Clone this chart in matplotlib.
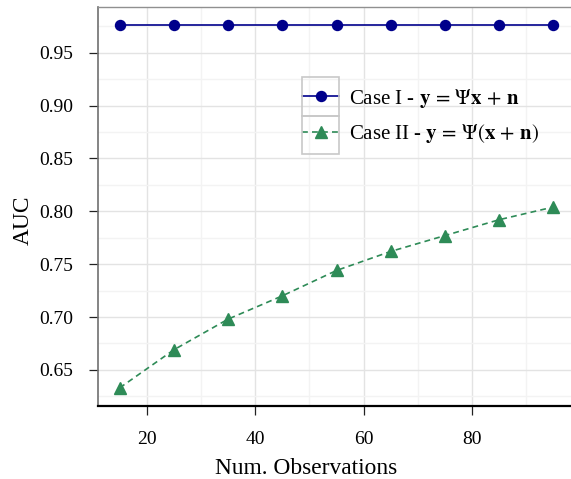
import matplotlib
matplotlib.use("Agg")
import matplotlib.pyplot as plt
from matplotlib.ticker import MultipleLocator, FormatStrFormatter
from matplotlib.patches import Rectangle

plt.rcParams['font.family'] = ['Liberation Serif', 'DejaVu Serif']
plt.rcParams['mathtext.fontset'] = 'stix'

obs = [15, 25, 35, 45, 55, 65, 75, 85, 95]
case1 = [0.976, 0.976, 0.976, 0.976, 0.976, 0.976, 0.976, 0.976, 0.976]
case2 = [0.633, 0.669, 0.698, 0.720, 0.744, 0.762, 0.777, 0.792, 0.804]
label1 = r'Case I - $\mathbf{y}\,=\,\Psi\mathbf{x}\,+\,\mathbf{n}$'
label2 = r'Case II - $\mathbf{y}\,=\,\Psi(\mathbf{x}\,+\,\mathbf{n})$'

blue = '#00008B'
green = '#2E8B57'

W, H = 571, 479
fig = plt.figure(figsize=(W / 100, H / 100), dpi=100)
ax = fig.add_axes([98 / W, 73 / H, 477 / W, 399 / H])

ax.plot(obs, case1, color=blue, lw=1.2, marker='o', ms=7.2, label=label1)
ax.plot(obs, case2, color=green, lw=1.2, ls=(0, (3.5, 2.5)), marker='^', ms=9, label=label2)

ax.xaxis.set_major_locator(MultipleLocator(20))
ax.xaxis.set_minor_locator(MultipleLocator(10))
ax.yaxis.set_major_locator(MultipleLocator(0.05))
ax.yaxis.set_minor_locator(MultipleLocator(0.025))
ax.yaxis.set_major_formatter(FormatStrFormatter('%.2f'))
ax.grid(which='major', color='#e3e3e3', lw=1.0)
ax.grid(which='minor', color='#f3f3f3', lw=1.0)
ax.set_axisbelow(True)

ax.tick_params(which='major', length=6.5, width=0.9, labelsize=14, direction='out', pad=11.5, color='#222222')
ax.tick_params(which='minor', length=0)
ax.spines['right'].set_visible(False)
ax.spines['top'].set_color('#909090')
ax.spines['top'].set_linewidth(1.0)
ax.spines['left'].set_color('#707070')
ax.spines['left'].set_linewidth(1.2)
ax.spines['bottom'].set_color('black')
ax.spines['bottom'].set_linewidth(1.6)

ax.set_xlabel('Num. Observations', fontsize=16.8)
ax.xaxis.set_label_coords((306 - 98) / 477, (406 - 458) / 399)
ax.set_ylabel('AUC', fontsize=16.8)
ax.yaxis.set_label_coords((34 - 98) / 477, (406 - 220) / 399)

leg = ax.legend(loc='center left', bbox_to_anchor=((302 - 98) / 477, (406 - 116) / 399),
                frameon=False, fontsize=15, handlelength=1.78, handletextpad=0.47,
                labelspacing=0.62, borderaxespad=0, borderpad=0)

# cell boxes around legend handles (figure pixel coordinates)
fig.patches.append(Rectangle((302, H - 116), 37, 39, transform=None,
                             fill=False, edgecolor='#c8c8c8', lw=1.2))
fig.patches.append(Rectangle((302, H - 154), 37, 38, transform=None,
                             fill=False, edgecolor='#c8c8c8', lw=1.2))

fig.savefig('out.png', dpi=100)
